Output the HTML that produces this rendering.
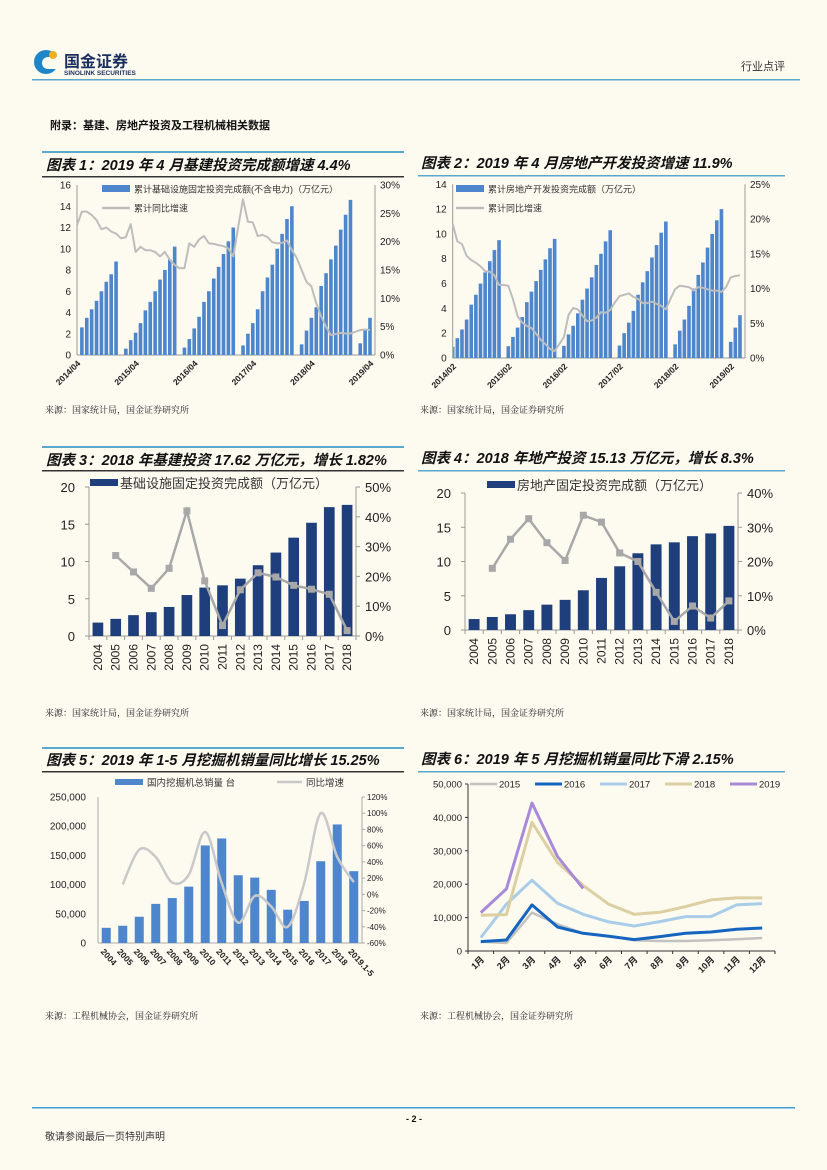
<!DOCTYPE html>
<html><head><meta charset="utf-8">
<style>
html,body{margin:0;padding:0;background:#fdfaf0;}
svg{display:block;}
text{font-family:"Liberation Sans","Noto Sans CJK SC",sans-serif;}
.ti{font-weight:bold;font-style:italic;font-size:14.5px;fill:#111;}
.src{font-size:9px;fill:#222;font-family:"Liberation Serif","Noto Serif CJK SC",serif;}
.ax{font-size:10px;fill:#222;}
</style></head>
<body>
<svg id="page" width="827" height="1170" viewBox="0 0 827 1170" xmlns="http://www.w3.org/2000/svg">
<rect width="827" height="1170" fill="#fdfaf0"/>
<g>
  <circle cx="46" cy="62" r="12" fill="#1e86c6"/>
  <circle cx="48" cy="63" r="6" fill="#fdfaf0"/>
  <rect x="48" y="57" width="12" height="12" fill="#fdfaf0"/>
  <circle cx="53" cy="55" r="4" fill="#f2b01e"/>
  <text x="64" y="67" font-size="16" font-weight="bold" fill="#1b2f5e">国金证券</text>
  <text x="64" y="75" font-size="6.5" font-weight="bold" fill="#1b2f5e">SINOLINK SECURITIES</text>
  <text x="785" y="70" font-size="11" text-anchor="end" fill="#333">行业点评</text>
  <rect x="32" y="79" width="768" height="1.5" fill="#5aa8cc"/>
</g>
<text x="50" y="129" font-size="11" font-weight="bold" fill="#111" font-family="Liberation Serif,Noto Serif CJK SC,serif">附录：基建、房地产投资及工程机械相关数据</text>

<rect x="42" y="151" width="362" height="2" fill="#5aa8cc"/>
<text x="46" y="170" class="ti">图表 1：2019 年 4 月基建投资完成额增速 4.4%</text>
<rect x="42" y="176" width="362" height="1.5" fill="#333"/>
<text x="421" y="168" class="ti">图表 2：2019 年 4 月房地产开发投资增速 11.9%</text>
<rect x="418" y="175" width="367" height="1.5" fill="#5aa8cc"/>
<text x="45" y="413" class="src">来源：国家统计局，国金证券研究所</text>
<text x="420" y="413" class="src">来源：国家统计局，国金证券研究所</text>

<rect x="42" y="446" width="362" height="2" fill="#5aa8cc"/>
<text x="46" y="465" class="ti">图表 3：2018 年基建投资 17.62 万亿元，增长 1.82%</text>
<rect x="42" y="470" width="362" height="1.5" fill="#333"/>
<text x="421" y="463" class="ti">图表 4：2018 年地产投资 15.13 万亿元，增长 8.3%</text>
<rect x="418" y="470" width="367" height="1.5" fill="#5aa8cc"/>
<text x="45" y="716" class="src">来源：国家统计局，国金证券研究所</text>
<text x="420" y="716" class="src">来源：国家统计局，国金证券研究所</text>

<rect x="42" y="747" width="362" height="2" fill="#5aa8cc"/>
<text x="46" y="765" class="ti">图表 5：2019 年 1-5 月挖掘机销量同比增长 15.25%</text>
<rect x="42" y="771" width="362" height="1.5" fill="#333"/>
<text x="421" y="764" class="ti">图表 6：2019 年 5 月挖掘机销量同比下滑 2.15%</text>
<rect x="418" y="771" width="367" height="1.5" fill="#5aa8cc"/>
<text x="45" y="1019" class="src">来源：工程机械协会，国金证券研究所</text>
<text x="420" y="1019" class="src">来源：工程机械协会，国金证券研究所</text>

<g>
  <rect x="32" y="1107" width="763" height="1.5" fill="#3aa0d8"/>
  <text x="414" y="1122" font-size="9" font-weight="bold" text-anchor="middle" fill="#111">- 2 -</text>
  <text x="45" y="1140" font-size="10" fill="#333" font-family="Liberation Serif,Noto Serif CJK SC,serif">敬请参阅最后一页特别声明</text>
</g>
<g id="c1"></g>
<g id="c2"></g>
<g id="c3"></g>
<g id="c4"></g>
<g id="c5"></g>
<g id="c6"></g>
</svg>
<script>
const c1Bars = [null,2.6,3.5,4.3,5.1,6.0,6.9,7.6,8.8,
 null,0.6,1.4,2.1,3.0,4.2,5.0,6.0,7.1,8.0,9.0,10.2,
 null,0.7,1.5,2.5,3.6,5.0,6.0,7.2,8.3,9.5,10.7,12.0,
 null,0.9,2.0,3.0,4.3,6.0,7.3,8.5,10.0,11.4,12.8,14.0,
 null,1.0,2.3,3.5,4.5,6.5,7.7,9.0,10.3,11.8,13.2,14.6,
 null,1.1,2.4,3.5];
const c1Line = [22.9,25.3,25.3,24.7,23.8,22.2,22.5,21.8,21.4,
 20.6,20.8,23.1,18.2,19.1,18.5,18.5,18.2,17.4,18.2,16.8,15.9,
 15.3,15.3,19.7,19.1,20.4,21.0,19.7,19.6,19.4,19.2,18.8,17.4,
 22.6,27.5,23.5,23.4,21.0,21.2,20.8,19.9,19.7,19.8,20.2,18.5,
 17.1,15.0,12.9,12.1,9.1,6.8,5.0,3.5,3.7,3.9,3.8,3.8,
 4.1,4.4,4.5,4.4];
const c1XTicks = ["2014/04","2015/04","2016/04","2017/04","2018/04","2019/04"];
const c1YTicks = [0,2,4,6,8,10,12,14,16];
const c1RTicks = [0,5,10,15,20,25,30];
const c2Bars = [0.9,1.6,2.3,3.1,4.3,5.1,6.0,6.9,7.8,8.7,9.5,
 null,0.95,1.7,2.45,3.3,4.5,5.35,6.2,7.1,7.95,8.85,9.6,
 null,0.98,1.9,2.6,3.6,4.7,5.6,6.5,7.5,8.4,9.4,10.3,
 null,1.0,2.0,2.85,3.8,5.1,6.1,7.0,8.1,9.1,10.1,11.0,
 null,1.1,2.2,3.1,4.2,5.6,6.7,7.7,8.9,10.0,11.1,12.0,
 null,1.3,2.45,3.45];
const c2Line = [19.3,16.8,16.4,14.7,14.1,13.7,13.2,12.5,12.4,11.9,10.5,
 10.5,10.4,8.5,6.0,5.1,4.6,4.3,3.5,2.6,2.0,1.3,1.0,
 2.0,3.0,6.2,7.2,7.0,6.1,5.3,5.4,5.8,6.6,6.5,6.9,
 8.0,8.9,9.1,9.3,8.8,8.5,7.9,7.9,8.1,7.8,7.5,7.0,
 8.5,9.9,10.4,10.3,10.2,9.7,10.2,10.1,9.9,9.7,9.7,9.5,
 10.2,11.6,11.8,11.9];
const c2XTicks = ["2014/02","2015/02","2016/02","2017/02","2018/02","2019/02"];
const c2YTicks = [0,2,4,6,8,10,12,14];
const c2RTicks = [0,5,10,15,20,25];
const yearsA = ["2004","2005","2006","2007","2008","2009","2010","2011","2012","2013","2014","2015","2016","2017","2018"];
const c3Bars = [1.8,2.3,2.8,3.2,3.9,5.5,6.5,6.8,7.7,9.5,11.2,13.2,15.2,17.3,17.6];
const c3Line = [null,27,21.5,16,22.7,42,18.5,3.5,15.5,21.2,19.8,17,15.7,14,1.8];
const c4Bars = [1.6,1.9,2.3,2.9,3.7,4.4,5.8,7.6,9.3,11.2,12.5,12.8,13.7,14.1,15.2];
const c4Line = [null,18,26.5,32.5,25.5,20.3,33.5,31.5,22.5,20,11,2.5,7,3.5,8.5];
const c5Cats = ["2004","2005","2006","2007","2008","2009","2010","2011","2012","2013","2014","2015","2016","2017","2018","2019.1-5"];
const c5Bars = [26000,29500,45000,67000,77000,96500,167000,179000,116000,112000,91000,57000,72000,140000,203000,123000];
const c5Line = [null,12.4,55,46,14.5,24,77,13.6,-35,-2,-15,-40,14,100,46,15];
const c5YTicks = [0,50000,100000,150000,200000,250000];
const c5RTicks = [-60,-40,-20,0,20,40,60,80,100,120];
const c6Months = ["1月","2月","3月","4月","5月","6月","7月","8月","9月","10月","11月","12月"];
const s2015 = [2800,2400,11500,8000,5300,4500,3200,3000,3000,3200,3500,3900];
const s2016 = [2800,3300,13800,7200,5300,4400,3400,4300,5300,5700,6500,6900];
const s2017 = [4000,14000,21200,14300,11000,8700,7500,8800,10300,10300,13800,14200];
const s2018 = [10700,10900,38500,26500,19600,14000,11000,11600,13300,15300,15900,15900];
const s2019 = [11500,18600,44300,28300,18700];
const c6YTicks = [0,10000,20000,30000,40000,50000];

const NS="http://www.w3.org/2000/svg";
function el(tag, attrs, parent, txt){
  const e=document.createElementNS(NS,tag);
  for(const k in attrs) e.setAttribute(k,attrs[k]);
  if(txt!==undefined) e.textContent=txt;
  parent.appendChild(e); return e;
}
function fmt(n){return n.toString().replace(/\B(?=(\d{3})+(?!\d))/g,",");}
function linePath(pts){
  return pts.map((p,i)=>(i?"L":"M")+p[0].toFixed(1)+","+p[1].toFixed(1)).join("");
}
function smoothPath(p){
  let d="M"+p[0][0]+","+p[0][1];
  for(let i=0;i<p.length-1;i++){
    const p0=p[i-1]||p[i],p1=p[i],p2=p[i+1],p3=p[i+2]||p2;
    const c1x=p1[0]+(p2[0]-p0[0])/6,c1y=p1[1]+(p2[1]-p0[1])/6;
    const c2x=p2[0]-(p3[0]-p1[0])/6,c2y=p2[1]-(p3[1]-p1[1])/6;
    d+="C"+c1x+","+c1y+" "+c2x+","+c2y+" "+p2[0]+","+p2[1];
  }
  return d;
}

function monthly(g, o, bars, line, xt, yt, rt){
  const X=i=>o.x0+i*o.step;
  const Y=v=>o.y0-(v-yt[0])/(yt[yt.length-1]-yt[0])*(o.y0-o.y1);
  const R=v=>o.y0-(v-rt[0])/(rt[rt.length-1]-rt[0])*(o.y0-o.y1);
  el("line",{x1:o.x0,y1:o.y1,x2:o.x0,y2:o.y0,stroke:"#999"},g);
  el("line",{x1:o.x0,y1:o.y0,x2:o.xr,y2:o.y0,stroke:"#999"},g);
  el("line",{x1:o.xr,y1:o.y1,x2:o.xr,y2:o.y0,stroke:"#999"},g);
  yt.forEach(v=>{
    const t=el("text",{x:o.x0-6,y:Y(v)+3.5,"text-anchor":"end",class:"ax","font-size":"10"},g,v);
    
    
  });
  rt.forEach(v=>{
    const t=el("text",{x:o.xr+5,y:R(v)+3.5,class:"ax","font-size":"9"},g,v+"%");
    
    
  });
  bars.forEach((v,i)=>{
    if(v==null) return;
    const x=Math.max(X(i)-1.8,o.x0+0.5);
    const b=el("rect",{x:x,y:Y(v),width:X(i)+1.8-x,height:o.y0-Y(v),fill:"#4d86cc"},g);
    
    
  });
  const pts=line.map((v,i)=>[X(i),R(v)]);
  const p=el("path",{d:linePath(pts),fill:"none",stroke:"#bdbdbd","stroke-width":"2","stroke-linejoin":"round"},g);
  
  
  xt.forEach((s,k)=>{
    const x=X(k*12);
    const t=el("text",{x:x+4,y:o.y0+9,"text-anchor":"end","font-size":"8.5","font-weight":"bold",fill:"#222",transform:`rotate(-45 ${x+4} ${o.y0+9})`},g,s);
    
    
  });
  const lr=el("rect",{x:o.lx,y:o.ly-4,width:28,height:7,fill:"#4d86cc"},g);
  
  
  el("text",{x:o.lx+32,y:o.ly+3.5,"font-size":"9",fill:"#333"},g,o.l1);
  const ll=el("line",{x1:o.lx,y1:o.ly+19,x2:o.lx+28,y2:o.ly+19,stroke:"#bdbdbd","stroke-width":"2.5"},g);
  
  
  el("text",{x:o.lx+32,y:o.ly+22.5,"font-size":"9",fill:"#333"},g,"累计同比增速");
}
monthly(document.getElementById("c1"),{x0:77,step:293/60,xr:375,y0:355,y1:185,lx:102,ly:189,l1:"累计基础设施固定投资完成额(不含电力)（万亿元）"},c1Bars,c1Line,c1XTicks,c1YTicks,c1RTicks);
monthly(document.getElementById("c2"),{x0:452.7,step:13.9/3,xr:745,y0:358,y1:184.3,lx:456,ly:189,l1:"累计房地产开发投资完成额（万亿元）"},c2Bars,c2Line,c2XTicks,c2YTicks,c2RTicks);

function annual(g,o,bars,line,yt,rt,legend){
  const n=yearsA.length, sw=(o.xr-o.x0)/n;
  const X=i=>o.x0+(i+0.5)*sw;
  const Y=v=>o.y0-v/yt[yt.length-1]*(o.y0-o.y1);
  const R=v=>o.y0-v/rt[rt.length-1]*(o.y0-o.y1);
  el("line",{x1:o.x0,y1:o.y1,x2:o.x0,y2:o.y0,stroke:"#999"},g);
  el("line",{x1:o.x0,y1:o.y0,x2:o.xr,y2:o.y0,stroke:"#999"},g);
  el("line",{x1:o.xr,y1:o.y1,x2:o.xr,y2:o.y0,stroke:"#999"},g);
  yt.forEach(v=>{
    el("line",{x1:o.x0-4,y1:Y(v),x2:o.x0,y2:Y(v),stroke:"#999"},g);
    const t=el("text",{x:o.x0-14,y:Y(v)+5,"text-anchor":"end","font-size":"13",fill:"#222"},g,v);
    
    
  });
  rt.forEach(v=>{
    el("line",{x1:o.xr,y1:R(v),x2:o.xr+4,y2:R(v),stroke:"#999"},g);
    const t=el("text",{x:o.xr+9,y:R(v)+5,"font-size":"13",fill:"#222"},g,v+"%");
    
    
  });
  for(let i=0;i<=n;i++) el("line",{x1:o.x0+i*sw,y1:o.y0,x2:o.x0+i*sw,y2:o.y0+4,stroke:"#999"},g);
  bars.forEach((v,i)=>{
    const b=el("rect",{x:X(i)-sw*0.3,y:Y(v),width:sw*0.6,height:o.y0-Y(v),fill:"#1f3f7c"},g);
    
    
  });
  const pts=[];line.forEach((v,i)=>{if(v!=null)pts.push([X(i),R(v)]);});
  const p=el("path",{d:linePath(pts),fill:"none",stroke:"#a8a8a8","stroke-width":"2.5"},g);
  
  
  pts.forEach(q=>{
    const m=el("rect",{x:q[0]-3.5,y:q[1]-3.5,width:7,height:7,fill:"#a8a8a8"},g);
    
    
  });
  yearsA.forEach((s,i)=>{
    const x=X(i)+4,y=o.y0+8;
    const t=el("text",{x:x,y:y,"text-anchor":"end","font-size":"12",fill:"#222",transform:`rotate(-90 ${x} ${y})`},g,s);
    
    
  });
  const lr=el("rect",{x:o.lx,y:o.ly-4,width:28,height:7,fill:"#1f3f7c"},g);
  
  
  const lt=el("text",{x:o.lx+30,y:o.ly+5,"font-size":"13",fill:"#333"},g,legend);
  
  
}
annual(document.getElementById("c3"),{x0:89,xr:356,y0:636,y1:487,lx:90,ly:483},c3Bars,c3Line,[0,5,10,15,20],[0,10,20,30,40,50],"基础设施固定投资完成额（万亿元）");
annual(document.getElementById("c4"),{x0:465,xr:738,y0:630,y1:493,lx:487,ly:485},c4Bars,c4Line,[0,5,10,15,20],[0,10,20,30,40],"房地产固定投资完成额（万亿元）");

(function(){
  const g=document.getElementById("c5");
  const x0=98,xr=362,y0=943,y1=797,n=c5Cats.length,sw=(xr-x0)/n;
  const X=i=>x0+(i+0.5)*sw;
  const Y=v=>y0-v/250000*(y0-y1);
  const R=v=>y0-(v+60)/180*(y0-y1);
  el("line",{x1:x0,y1:y1,x2:x0,y2:y0,stroke:"#aaa"},g);
  el("line",{x1:x0,y1:y0,x2:xr,y2:y0,stroke:"#aaa"},g);
  el("line",{x1:xr,y1:y1,x2:xr,y2:y0,stroke:"#aaa"},g);
  c5YTicks.forEach(v=>{
    const t=el("text",{x:x0-12,y:Y(v)+3.5,"text-anchor":"end","font-size":"10",fill:"#222"},g,fmt(v));
    
    
  });
  c5RTicks.forEach(v=>{
    el("line",{x1:xr,y1:R(v),x2:xr+3,y2:R(v),stroke:"#aaa"},g);
    const t=el("text",{x:xr+5,y:R(v)+3,"font-size":"8",fill:"#222"},g,v+"%");
    
    
  });
  c5Bars.forEach((v,i)=>{
    const b=el("rect",{x:X(i)-4.5,y:Y(v),width:9,height:y0-Y(v),fill:"#4d86cc"},g);
    
    
  });
  const pts=[];c5Line.forEach((v,i)=>{if(v!=null)pts.push([X(i),R(v)]);});
  const p=el("path",{d:smoothPath(pts),fill:"none",stroke:"#c9c9c9","stroke-width":"2.5"},g);
  
  
  c5Cats.forEach((s,i)=>{
    const x=X(i)-6,y=y0+9;
    const t=el("text",{x:x,y:y,"font-size":"8.5","font-weight":"bold",fill:"#222",transform:`rotate(48 ${x} ${y})`},g,s);
    
    
  });
  const lr=el("rect",{x:115,y:779,width:28,height:6,fill:"#4d86cc"},g);
  
  
  el("text",{x:147,y:786,"font-size":"9.5",fill:"#333"},g,"国内挖掘机总销量 台");
  const ll=el("line",{x1:277,y1:782,x2:302,y2:782,stroke:"#c9c9c9","stroke-width":"2.5"},g);
  
  
  el("text",{x:306,y:786,"font-size":"9.5",fill:"#333"},g,"同比增速");
})();

(function(){
  const g=document.getElementById("c6");
  const x0=468,xr=775,y0=951,y1=784,sw=(xr-x0)/12;
  const X=i=>x0+(i+0.5)*sw;
  const Y=v=>y0-v/50000*(y0-y1);
  el("line",{x1:x0,y1:y1,x2:x0,y2:y0,stroke:"#333"},g);
  el("line",{x1:x0,y1:y0,x2:xr,y2:y0,stroke:"#333"},g);
  c6YTicks.forEach(v=>{
    el("line",{x1:x0-3,y1:Y(v),x2:x0,y2:Y(v),stroke:"#333"},g);
    const t=el("text",{x:x0-6,y:Y(v)+3.5,"text-anchor":"end","font-size":"9.5",fill:"#222"},g,fmt(v));
    
    
  });
  for(let i=0;i<=12;i++) el("line",{x1:x0+i*sw,y1:y0,x2:x0+i*sw,y2:y0+3,stroke:"#333"},g);
  const series=[[s2015,"#c4c2c0",2.5,"2015"],[s2016,"#1565c0",3,"2016"],[s2017,"#a9cde9",3,"2017"],[s2018,"#dccfa2",3,"2018"],[s2019,"#a88ad8",3,"2019"]];
  series.forEach(([d,c,w,name])=>{
    const p=el("path",{d:linePath(d.map((v,i)=>[X(i),Y(v)])),fill:"none",stroke:c,"stroke-width":w,"stroke-linejoin":"round"},g);
    
    
  });
  const lxs=[470,535,600,665,730];
  series.forEach(([d,c,w,name],k)=>{
    const l=el("line",{x1:lxs[k],y1:784,x2:lxs[k]+27,y2:784,stroke:c,"stroke-width":w},g);
    
    
    el("text",{x:lxs[k]+29,y:787.5,"font-size":"9.5",fill:"#222"},g,name);
  });
  c6Months.forEach((s,i)=>{
    const x=X(i)+4,y=y0+9;
    const t=el("text",{x:x,y:y,"text-anchor":"end","font-size":"9","font-weight":"bold",fill:"#222",transform:`rotate(-45 ${x} ${y})`},g,s);
    
    
  });
})();
</script>
</body></html>
